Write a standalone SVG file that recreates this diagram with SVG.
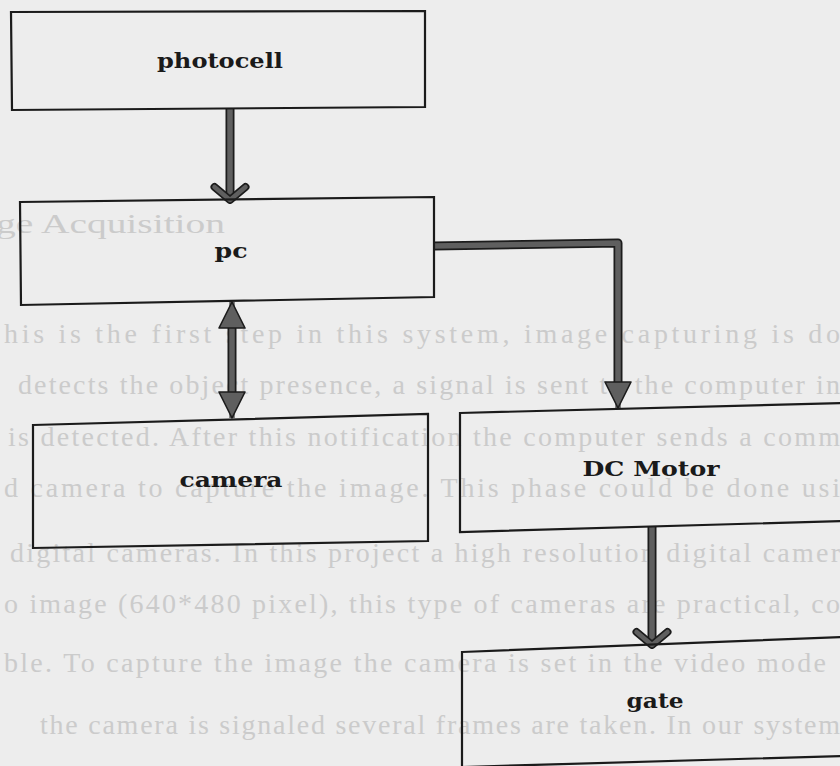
<svg xmlns="http://www.w3.org/2000/svg" width="840" height="766" viewBox="0 0 840 766">
<style>
.bg{fill:#ededed}
.ghost{font-family:"Liberation Serif","Times New Roman",serif;font-size:28px;fill:#cbcbcb}
.box{fill:none;stroke:#1b1b1b;stroke-width:2.2;stroke-linejoin:miter}
.lbl{font-family:"DejaVu Serif","Liberation Serif",serif;font-weight:bold;font-size:21px;fill:#1a1a1a;text-anchor:middle}
.edge-o{fill:none;stroke:#1c1c1c;stroke-width:9;stroke-linejoin:round}
.edge-i{fill:none;stroke:#5f5f5f;stroke-width:5.5;stroke-linejoin:round}
</style>
<defs>
<marker id="tri" markerUnits="userSpaceOnUse" viewBox="0 0 30 30" markerWidth="30" markerHeight="30" refX="28" refY="15" orient="auto-start-reverse">
<path d="M2,2 L28,15 L2,28 Z" fill="#5f5f5f" stroke="#1c1c1c" stroke-width="1.6" stroke-linejoin="round"/>
</marker>
<marker id="chev" markerUnits="userSpaceOnUse" viewBox="0 0 30 40" markerWidth="30" markerHeight="40" refX="26" refY="20" orient="auto">
<path d="M13,4.5 L26,20 L13,35.5" fill="none" stroke="#1c1c1c" stroke-width="8" stroke-linecap="round" stroke-linejoin="round"/>
<path d="M13,4.5 L26,20 L13,35.5" fill="none" stroke="#5f5f5f" stroke-width="4.5" stroke-linecap="round" stroke-linejoin="round"/>
</marker>
</defs>
<rect class="bg" x="0" y="0" width="840" height="766"/>
<g id="background-text">
<text class="ghost" x="-4" y="233" font-size="30" textLength="229" lengthAdjust="spacingAndGlyphs">ge Acquisition</text>
<text class="ghost" x="4" y="343" textLength="836" lengthAdjust="spacing">his is the first step in this system, image capturing is do</text>
<text class="ghost" x="18" y="394" textLength="822" lengthAdjust="spacing">detects the object presence, a signal is sent to the computer in</text>
<text class="ghost" x="8" y="446" textLength="832" lengthAdjust="spacing">is detected.  After this notification the computer sends a comm</text>
<text class="ghost" x="4" y="497" textLength="836" lengthAdjust="spacing">d camera to capture the image. This phase could be done usi</text>
<text class="ghost" x="10" y="562" textLength="830" lengthAdjust="spacing">digital cameras. In this project a high resolution digital camer</text>
<text class="ghost" x="4" y="613" textLength="836" lengthAdjust="spacing">o image (640*480 pixel), this type of cameras are practical, co</text>
<text class="ghost" x="4" y="672" textLength="822" lengthAdjust="spacing">ble. To capture the image the camera is set in the video mode</text>
<text class="ghost" x="40" y="734" textLength="800" lengthAdjust="spacing">the camera is signaled several frames are taken. In our system</text>
</g>
<g id="connectors">
<path class="edge-o" d="M230,108 L230,198"/>
<path class="edge-i" d="M230,108 L230,200" marker-end="url(#chev)"/>
<path class="edge-o" d="M434,246 L618,243 L618,385"/>
<path class="edge-i" d="M434,246 L618,243 L618,408" marker-end="url(#tri)"/>
<path class="edge-o" d="M232,327 L232,393"/>
<path class="edge-i" d="M232,302 L232,418" marker-start="url(#tri)" marker-end="url(#tri)"/>
<path class="edge-o" d="M652,527 L652,643"/>
<path class="edge-i" d="M652,527 L652,645" marker-end="url(#chev)"/>
</g>
<g id="node-photocell">
<polygon class="box" points="11,12 425,11 425,107 12,110"/>
<text class="lbl" x="220" y="68" textLength="126" lengthAdjust="spacingAndGlyphs">photocell</text>
</g>
<g id="node-pc">
<polygon class="box" points="20,202 434,197 434,297 21,305"/>
<text class="lbl" x="231" y="258" textLength="33" lengthAdjust="spacingAndGlyphs">pc</text>
</g>
<g id="node-camera">
<polygon class="box" points="33,425 428,414 428,541 33,548"/>
<text class="lbl" x="231" y="487" textLength="103" lengthAdjust="spacingAndGlyphs">camera</text>
</g>
<g id="node-dc-motor">
<polygon class="box" points="460,413 842,403 842,521 460,532"/>
<text class="lbl" x="651" y="476" textLength="137" lengthAdjust="spacingAndGlyphs">DC Motor</text>
</g>
<g id="node-gate">
<polygon class="box" points="462,652 842,637 842,756 462,767"/>
<text class="lbl" x="655" y="708" textLength="57" lengthAdjust="spacingAndGlyphs">gate</text>
</g>
</svg>
